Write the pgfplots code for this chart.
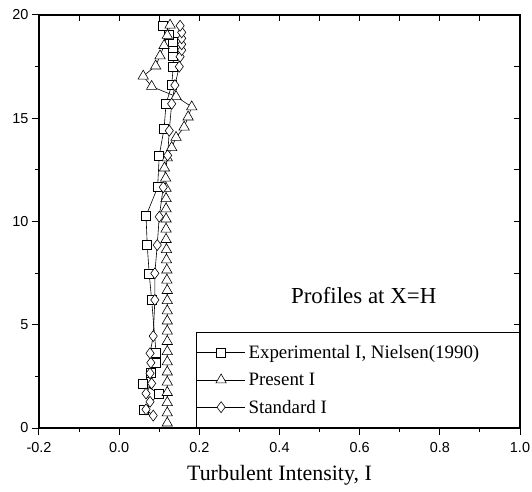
\documentclass[border=0pt]{standalone}
\usepackage{pgfplots}
\pgfplotsset{compat=1.18}
\usepackage{fontspec}
\setmainfont{Liberation Serif}
\newfontfamily\arialfont{Liberation Sans}
\usetikzlibrary{calc}

% Experimental I, Nielsen (1990)
\pgfplotstableread{
x y
0.062 0.90
0.100 1.65
0.059 2.16
0.078 2.65
0.092 3.16
0.092 3.65
0.081 6.20
0.075 7.46
0.070 8.86
0.067 10.27
0.096 11.66
0.100 13.20
0.112 14.50
0.117 15.70
0.131 16.60
0.135 17.50
0.135 18.00
0.135 18.40
0.135 18.70
0.125 19.06
0.110 19.48
}\expdata

% Present I
\pgfplotstableread{
x y
0.120 0.24
0.120 0.73
0.120 1.23
0.120 1.72
0.120 2.22
0.120 2.71
0.120 3.20
0.120 3.70
0.120 4.19
0.120 4.69
0.120 5.18
0.120 5.67
0.120 6.17
0.120 6.66
0.119 7.16
0.119 7.65
0.118 8.14
0.118 8.64
0.117 9.13
0.117 9.63
0.117 10.12
0.117 10.61
0.117 11.11
0.117 11.60
0.116 12.10
0.113 12.59
0.120 13.08
0.131 13.58
0.142 14.07
0.162 14.57
0.172 15.06
0.181 15.55
0.142 16.05
0.081 16.54
0.060 17.04
0.091 17.53
0.102 18.02
0.112 18.52
0.120 19.01
0.127 19.51
}\presdata

% Standard I
\pgfplotstableread{
x y
0.085 0.60
0.067 0.90
0.077 1.27
0.067 1.67
0.081 2.16
0.077 2.65
0.079 3.16
0.077 3.62
0.085 4.45
0.089 6.20
0.089 7.49
0.095 8.86
0.100 10.23
0.110 11.66
0.121 13.20
0.125 14.40
0.131 15.70
0.139 16.60
0.150 17.50
0.152 17.98
0.156 18.30
0.156 18.58
0.156 18.87
0.156 19.16
0.152 19.48
}\stddata

\pgfplotsset{
  frame/.style={
    scale only axis, width=481bp, height=413bp,
    xmin=-0.2, xmax=1.0, ymin=0, ymax=20,
    xtick={-0.2,0,0.2,0.4,0.6,0.8,1.0},
    minor xtick={-0.1,0.1,0.3,0.5,0.7,0.9},
    ytick={0,5,10,15,20},
    minor ytick={2.5,7.5,12.5,17.5},
    axis line style={line width=1.2bp},
    every tick/.style={black, line width=1bp},
  },
}

\begin{document}
\begin{tikzpicture}
% top and right ticks, pointing in
\begin{axis}[frame,
  xtick pos=right, ytick pos=right, tick align=inside,
  major tick length=6bp, minor tick length=6bp,
  xticklabels={}, yticklabels={},
]
\end{axis}

\begin{axis}[frame, name=ax,
  xtick pos=left, ytick pos=left, tick align=outside,
  major tick length=7bp, minor tick length=4bp,
  xticklabel style={font=\arialfont\fontsize{14.5}{16}\selectfont, yshift=-4bp,
    /pgf/number format/fixed, /pgf/number format/fixed zerofill,
    /pgf/number format/precision=1},
  yticklabel style={font=\arialfont\fontsize{14.5}{16}\selectfont},
  /pgf/number format/assume math mode=true,
  xlabel={Turbulent Intensity, I},
  xlabel style={font=\fontsize{22}{26}\selectfont, yshift=-6bp},
  legend cell align=left,
  legend image code/.code={
    \draw[mark repeat=2, mark phase=2, #1]
      plot coordinates {(0cm,0cm) (0.85cm,0cm) (1.7cm,0cm)};},
  legend style={at={(rel axis cs:1,0)}, anchor=south east,
    draw=black, line width=1bp, fill=white,
    font=\fontsize{19}{22}\selectfont,
    inner xsep=0pt, inner ysep=11bp, row sep=9bp,
    nodes={inner xsep=3bp}},
]
\addplot[black, line width=0.6pt, mark=square*,
  mark options={fill=white, solid, mark size=4.5pt}] table {\expdata};
\addlegendentry{\makebox[268bp][l]{Experimental I, Nielsen(1990)}}
\addplot[black, line width=0.6pt, mark=triangle*,
  mark options={fill=white, solid, mark size=6pt}] table {\presdata};
\addlegendentry{\makebox[268bp][l]{Present I}}
\addplot[black, line width=0.6pt, mark=diamond*,
  mark options={fill=white, solid, mark size=5.5pt}] table {\stddata};
\addlegendentry{\makebox[268bp][l]{Standard I}}

\node[font=\fontsize{23}{27}\selectfont] at (axis cs:0.61,6.4) {Profiles at X=H};
\end{axis}

\pgfresetboundingbox
\path ($(ax.south west)+(-39bp,-64bp)$) rectangle ($(ax.north east)+(12bp,15bp)$);
\end{tikzpicture}
\end{document}
